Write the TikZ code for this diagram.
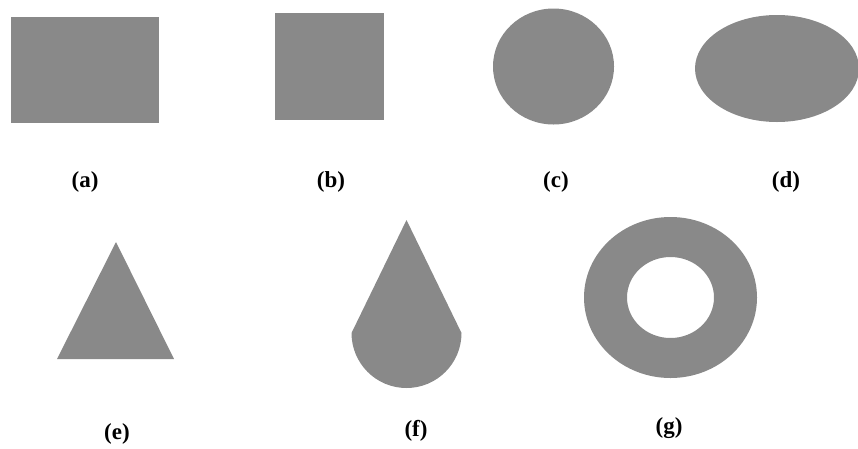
\documentclass[tikz,border=0pt]{standalone}
\usepackage{fontspec}
\setmainfont{Liberation Serif}
\definecolor{shapegray}{RGB}{137,137,137}
\begin{document}
\begin{tikzpicture}[x=1pt,y=-1pt,
  shapefill/.style={fill=shapegray,draw=none},
  caption/.style={font=\fontsize{23}{23}\selectfont\bfseries,inner sep=0pt,anchor=center}]
\useasboundingbox (0,0) rectangle (858,448);
\clip (0,0) rectangle (858,448);
% (a) rectangle
\fill[shapegray] (11,17) rectangle (159,123);
% (b) square
\fill[shapegray] (275,13) rectangle (384,120);
% (c) circle
\fill[shapegray] (553.5,66.5) ellipse [x radius=60.5pt, y radius=58pt];
% (d) ellipse
\fill[shapegray] (777,68.5) ellipse [x radius=82pt, y radius=53.5pt];
% (e) triangle
\fill[shapegray] (116,242) -- (174,359) -- (57,359) -- cycle;
% (f) teardrop
\fill[shapegray] (406.5,220) -- (351.5,333)
  .. controls (351.5,363.4) and (376.1,388) .. (406.5,388)
  .. controls (436.9,388) and (461.5,363.4) .. (461.5,333) -- cycle;
% (g) ring
\fill[shapegray,even odd rule] (670.5,297.5) ellipse [x radius=86.5pt, y radius=80.5pt]
  (670.5,297.5) ellipse [x radius=43.5pt, y radius=40.5pt];
% labels
\node[caption] (la) at (85,182) {(a)};
\node[caption] (lb) at (331,182) {(b)};
\node[caption] (lc) at (556,182) {(c)};
\node[caption] (ld) at (786,182) {(d)};
\node[caption] (le) at (117,434) {(e)};
\node[caption] (lf) at (416,431) {(f)};
\node[caption] (lg) at (669,428) {(g)};
\end{tikzpicture}
\end{document}
